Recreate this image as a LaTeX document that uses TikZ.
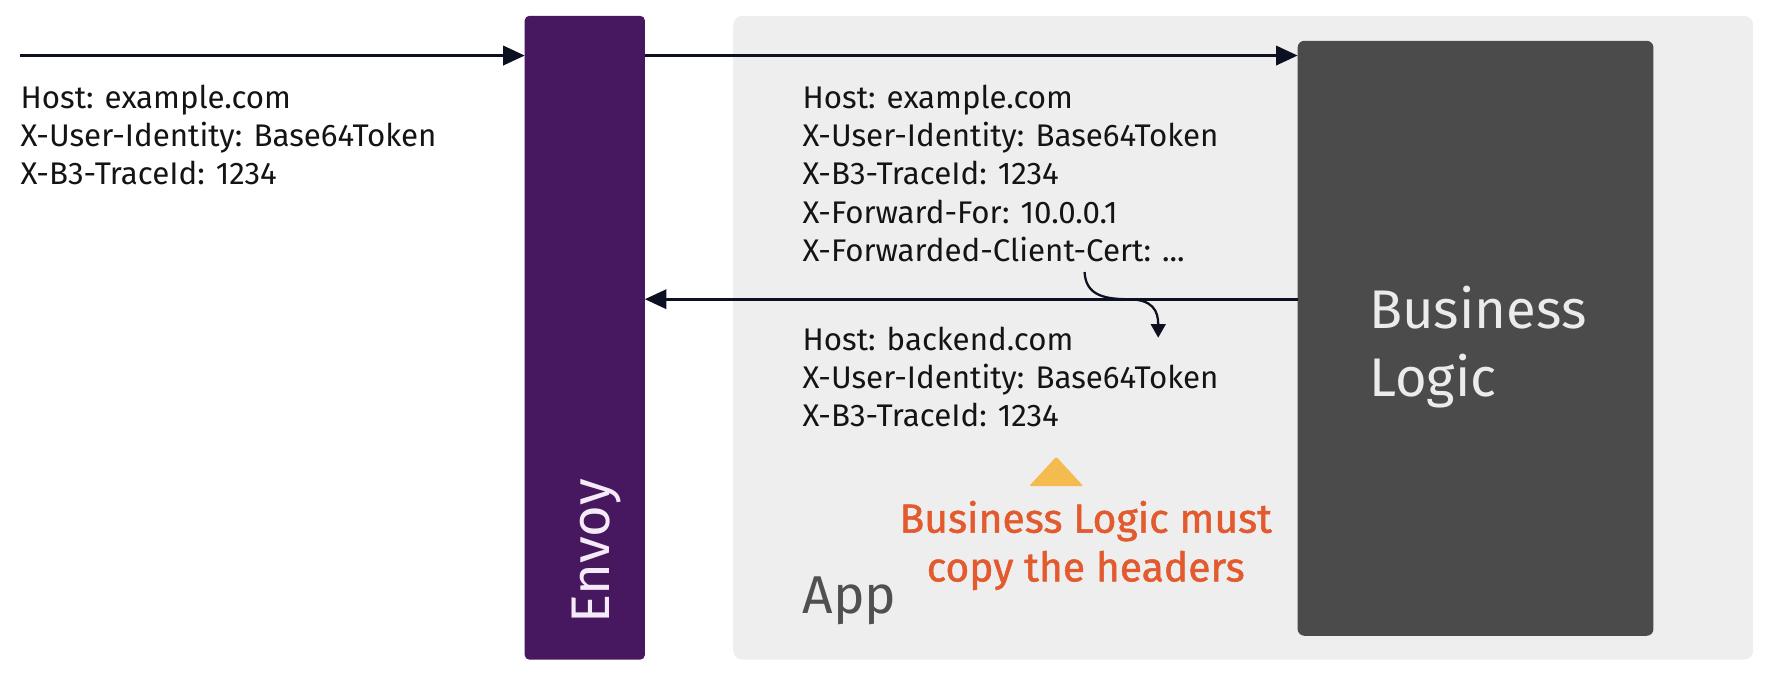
\documentclass[tikz,border=0pt]{standalone}
\usepackage{fontspec}
\setmainfont{Fira Sans}
\newfontfamily\medfont[FakeBold=1.2]{Fira Sans}
\usetikzlibrary{arrows.meta}
\definecolor{envoyc}{RGB}{71,23,95}
\definecolor{appc}{RGB}{238,238,238}
\definecolor{blc}{RGB}{75,75,75}
\definecolor{arrc}{RGB}{12,16,32}
\definecolor{txtc}{RGB}{20,20,20}
\definecolor{warnc}{RGB}{226,90,45}
\definecolor{tric}{RGB}{244,188,78}
\definecolor{appt}{RGB}{80,80,80}
\tikzset{
  box/.style={draw=none, inner sep=0pt, outer sep=0pt},
  hdr/.style={anchor=base west, inner sep=0pt, text=txtc, font=\fontsize{27.6}{34}\selectfont},
  flow/.style={draw=arrc, line width=2.4pt, -{Triangle[length=19pt,width=17pt]}},
  curvearrow/.style={draw=arrc, line width=2pt, -{Triangle[length=12pt,width=13pt]}},
}
\begin{document}
\begin{tikzpicture}[x=1pt,y=-1pt]
\useasboundingbox (0,0) rectangle (1568,598);
% boxes
\node[box, fill=appc, rounded corners=8pt, minimum width=900pt, minimum height=568pt] (app) at (1097,298) {};
\node[box, fill=envoyc, rounded corners=4pt, minimum width=106pt, minimum height=568pt] (envoy) at (516,298) {};
\node[box, fill=blc, rounded corners=6pt, minimum width=314pt, minimum height=525pt] (bl) at (1302,298.5) {};
% labels
\node[rotate=90, anchor=base, inner sep=0pt, text={rgb,255:red,245;green,235;blue,248}, font=\fontsize{48}{52}\selectfont] (envoyl) at (538,486.5) {Envoy};
\node[anchor=base west, inner sep=0pt, text={rgb,255:red,235;green,235;blue,235}, font=\fontsize{48}{60}\selectfont] (bl1) at (1208,290) {Business};
\node[anchor=base west, inner sep=0pt, text={rgb,255:red,235;green,235;blue,235}, font=\fontsize{48}{60}\selectfont] (bl2) at (1208,350) {Logic};
\node[anchor=base west, inner sep=0pt, text=appt, font=\fontsize{47}{50}\selectfont] (appl) at (708,541) {App};
% header texts
\node[hdr] (a1) at (18,96) {Host: example.com};
\node[hdr] (a2) at (18,129.6) {X-User-Identity: Base64Token};
\node[hdr] (a3) at (18,163.2) {X-B3-TraceId: 1234};
\node[hdr] (b1) at (708,96) {Host: example.com};
\node[hdr] (b2) at (708,129.6) {X-User-Identity: Base64Token};
\node[hdr] (b3) at (708,163.2) {X-B3-TraceId: 1234};
\node[hdr] (b4) at (708,196.8) {X-Forward-For: 10.0.0.1};
\node[hdr] (b5) at (708,230.4) {X-Forwarded-Client-Cert: ...};
\node[hdr] (c1) at (708,309) {Host: backend.com};
\node[hdr] (c2) at (708,342.6) {X-User-Identity: Base64Token};
\node[hdr] (c3) at (708,376.2) {X-B3-TraceId: 1234};
% warning
\fill[tric, rounded corners=1.5pt] (908,429) -- (932,403) -- (956,429) -- cycle;
\node[anchor=base, inner sep=0pt, text=warnc, font=\medfont\fontsize{36}{42}\selectfont] (w1) at (958,470) {Business Logic must};
\node[anchor=base, inner sep=0pt, text=warnc, font=\medfont\fontsize{36}{42}\selectfont] (w2) at (958,513) {copy the headers};
% connectors
\coordinate (in) at (18,49);
\coordinate (ret) at (1145,264);
\coordinate (cs) at (957,240);
\coordinate (ce) at (1022,298);
\draw[flow] (in) -- (envoy.west |- in);
\draw[flow] (envoy.east |- in) -- (bl.west |- in);
\draw[flow] (ret) -- (envoy.east |- ret);
\draw[curvearrow] (cs) .. controls (958,258) and (970,264) .. (995,264) .. controls (1017,264) and (1022,274) .. (ce);
\end{tikzpicture}
\end{document}
